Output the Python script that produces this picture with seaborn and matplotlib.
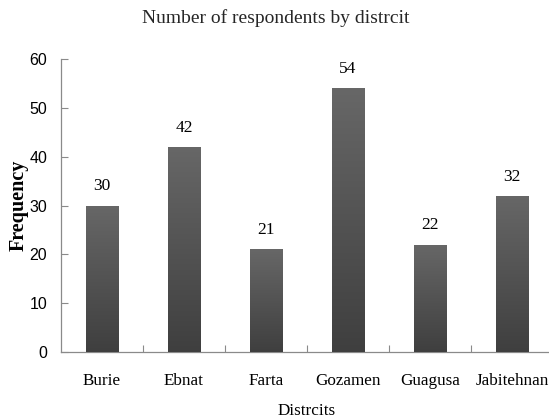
import numpy as np
import pandas as pd
import matplotlib
matplotlib.use("Agg")
import matplotlib.pyplot as plt
from matplotlib.colors import LinearSegmentedColormap
import seaborn as sns

districts = ["Burie", "Ebnat", "Farta", "Gozamen", "Guagusa", "Jabitehnan"]
counts = [30, 42, 21, 54, 22, 32]
yticks = [0, 10, 20, 30, 40, 50, 60]
title = "Number of respondents by distrcit"
xlabel = "Distrcits"
ylabel = "Frequency"

sns.set_theme(style="white")
plt.rcParams["font.family"] = ["Liberation Serif", "DejaVu Serif"]

df = pd.DataFrame({"district": districts, "count": counts})

fig = plt.figure(figsize=(5.49, 4.19), dpi=100)
ax = fig.add_axes([61 / 549, 0.160, 492 / 549, 0.699])

sns.barplot(data=df, x="district", y="count", color="#505050", saturation=1,
            width=0.4, ax=ax, zorder=2)

cmap = LinearSegmentedColormap.from_list("g", ["#3f3f3f", "#676767"])
grad = np.linspace(0, 1, 256).reshape(-1, 1)
for p in ax.patches:
    x0, y0, w, h = p.get_x(), p.get_y(), p.get_width(), p.get_height()
    im = ax.imshow(grad, cmap=cmap, extent=[x0, x0 + w, y0, y0 + h],
                   aspect="auto", origin="lower", zorder=3)
    im.set_clip_path(p)

ax.bar_label(ax.containers[0], labels=[str(c) for c in counts], padding=8,
             fontsize=12.5, color="black", zorder=4)

ax.set_xlim(-0.5, len(districts) - 0.5)
ax.set_ylim(0, 60)
ax.set_yticks(yticks)
ax.set_yticklabels([str(t) for t in yticks], fontsize=11.5,
                   family=["Liberation Sans", "DejaVu Sans"])
ax.set_xticks(range(len(districts)))
ax.set_xticklabels(districts, fontsize=12.3)
ax.set_xticks(np.arange(0.5, len(districts) - 0.5, 1), minor=True)
ax.tick_params(axis="x", which="major", length=0, pad=15, colors="black")
ax.tick_params(axis="x", which="minor", direction="in", length=5, width=0.8,
               color="#8a8a8a", bottom=True)
ax.tick_params(axis="y", which="major", direction="in", length=5, width=0.8,
               color="#8a8a8a", left=True, pad=10, labelcolor="black")

for s in ["top", "right"]:
    ax.spines[s].set_visible(False)
for s in ["left", "bottom"]:
    ax.spines[s].set_color("#8a8a8a")
    ax.spines[s].set_linewidth(0.9)

ax.set_xlabel(xlabel, fontsize=12.3, labelpad=10, color="black")
ax.set_ylabel(ylabel, fontsize=14.5, fontweight="bold", labelpad=0.5, color="black")
fig.text(276 / 549, 1 - 18 / 419, title, ha="center", va="center", fontsize=14)

fig.savefig("out.png", dpi=100)
